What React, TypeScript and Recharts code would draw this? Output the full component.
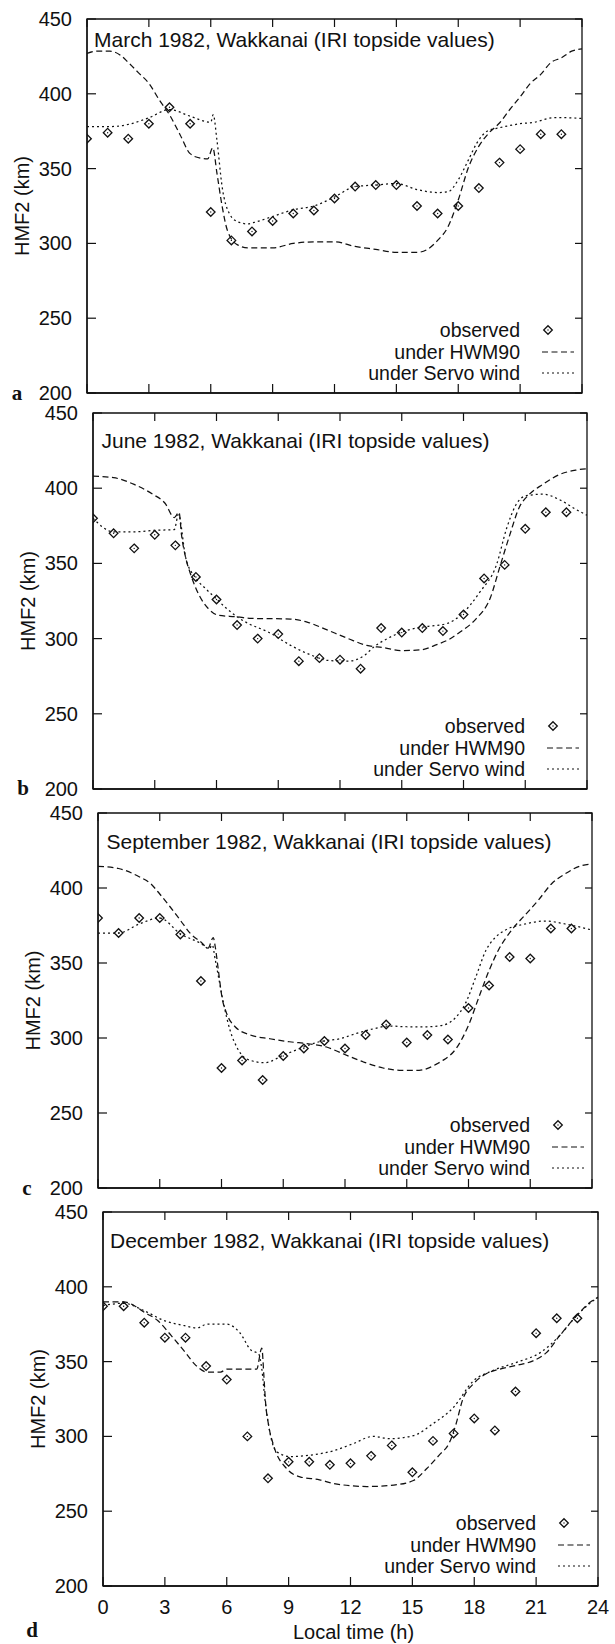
import React from 'react';
import { ComposedChart, Line, Scatter, XAxis, YAxis, ReferenceArea, Legend, Label } from 'recharts';

// ---------- data ----------
const hours = [0, 1, 2, 3, 4, 5, 6, 7, 8, 9, 10, 11, 12, 13, 14, 15, 16, 17, 18, 19, 20, 21, 22, 23];

const obsMarch = [370, 374, 370, 380, 391, 380, 321, 302, 308, 315, 320, 322, 330, 338, 339, 339, 325, 320, 325, 337, 354, 363, 373, 373];
const obsJune = [380, 370, 360, 369, 362, 341, 326, 309, 300, 303, 285, 287, 286, 280, 307, 304, 307, 305, 316, 340, 349, 373, 384, 384];
const obsSept = [380, 370, 380, 380, 369, 338, 280, 285, 272, 288, 293, 298, 293, 302, 309, 297, 302, 299, 320, 335, 354, 353, 373, 373];
const obsDec = [387, 387, 376, 366, 366, 347, 338, 300, 272, 283, 283, 281, 282, 287, 294, 276, 297, 302, 312, 304, 330, 369, 379, 379];

const hwmMarch: [number, number][] = [
  [0, 427], [0.5, 428.5], [1.1, 428.5], [1.6, 426], [2, 421], [2.5, 414], [3, 407], [3.5, 396], [4, 386], [4.5, 373],
  [5, 360], [5.5, 357], [5.85, 356.5], [6.1, 364], [6.3, 347], [6.55, 325], [6.8, 309], [7.3, 299], [7.8, 297], [9, 297],
  [10, 300], [11, 301], [12, 301], [13, 298], [14, 296], [15, 294], [16, 294], [16.5, 296], [17, 302], [17.5, 311],
  [18, 329], [18.5, 351], [19, 365], [19.5, 374], [20, 380.5], [20.5, 389.5], [21, 398], [21.5, 407], [22, 413],
  [22.5, 421], [23, 424], [23.5, 428.5], [24, 430],
];
const servoMarch: [number, number][] = [
  [0, 378], [1, 378], [2, 379.5], [3, 384], [4, 389.5], [5, 385], [6, 381], [6.12, 386], [6.3, 369], [6.55, 338],
  [6.9, 320], [7.3, 314.5], [7.8, 313], [8.1, 314], [9, 318], [10, 322.5], [11, 325], [12, 331], [13, 338], [14, 339],
  [15, 340], [16, 336], [17, 334], [17.5, 334.5], [18, 342.5], [18.5, 356], [18.9, 367], [19.4, 375], [19.9, 377],
  [20.4, 378.5], [21, 380], [21.7, 381], [22.6, 384], [23.2, 384], [24, 383.5],
];
const hwmJune: [number, number][] = [
  [0, 408], [1, 407], [2, 402.5], [2.9, 396], [3.5, 390], [3.95, 380.5], [4.18, 384], [4.3, 369], [4.5, 354], [4.75, 342.5],
  [5.15, 329], [5.6, 320], [6.1, 315.5], [7, 314.5], [7.6, 313.5], [9.6, 313], [10.4, 311], [11.25, 306.5], [12.4, 300],
  [13.3, 295.5], [14.1, 294], [15, 292], [15.9, 292.5], [16.7, 296], [17.3, 299.5], [17.85, 304.5], [18.6, 313],
  [19.3, 327], [19.75, 347], [20.25, 369], [20.7, 387], [21.2, 396], [21.85, 402.5], [22.65, 409], [23.45, 412], [24, 413],
];
const servoJune: [number, number][] = [
  [0, 380], [1, 371], [2, 371], [3, 372], [3.95, 372.5], [4.15, 382.5], [4.5, 354], [4.95, 341], [5.45, 333.5], [5.95, 327],
  [6.45, 320.5], [7, 314.5], [7.55, 310], [8.5, 304.5], [9.6, 295.5], [10.6, 289], [11.4, 285.5], [12.4, 285], [13.2, 289],
  [13.65, 294.5], [14.3, 300], [15.25, 305.5], [16.2, 308], [17.2, 310], [17.85, 315.5], [18.8, 331], [19.6, 349],
  [20.1, 373.5], [20.55, 389], [21.05, 395], [21.85, 396], [22.65, 392.5], [23.45, 386], [24, 382],
];
const hwmSept: [number, number][] = [
  [0, 414.5], [1, 413], [2, 407.5], [2.55, 403], [3, 396], [3.5, 387.5], [4, 378.5], [4.5, 369.5], [5, 364], [5.35, 360],
  [5.6, 367], [5.7, 360.5], [5.85, 345], [6.02, 327.5], [6.26, 316], [6.66, 307.5], [7.4, 302], [8.35, 299.5], [9.3, 297.5],
  [10.3, 296], [11.1, 294], [11.9, 289.5], [12.9, 284], [13.85, 280], [14.65, 278.5], [15.6, 278.5], [16.5, 283],
  [16.75, 285], [17.4, 293], [18.03, 309.5], [18.5, 327], [19, 345], [19.45, 358.5], [20.1, 372], [20.75, 382],
  [21.4, 392], [22.05, 403], [22.7, 409.5], [23.5, 415], [24, 416],
];
const servoSept: [number, number][] = [
  [0, 370], [1, 370], [2, 376], [3, 380], [4, 369.5], [5, 363], [5.4, 359.5], [5.55, 362], [5.7, 352], [5.85, 341],
  [6.1, 323], [6.42, 305], [6.74, 294], [7.23, 286], [8.1, 283.5], [9, 288.5], [10, 294], [10.75, 297.5], [11.75, 299.5],
  [12.55, 303], [13.35, 306], [14.15, 308], [15, 307.5], [16, 307.5], [16.75, 308.5], [17.4, 314], [17.85, 323],
  [18.35, 340.5], [18.85, 358.5], [19.3, 367], [19.8, 372], [20.75, 376], [21.75, 378], [22.7, 376], [23.7, 373], [24, 372],
];
const hwmDec: [number, number][] = [
  [0, 390], [1, 390], [1.5, 387.5], [2, 383], [2.65, 377.5], [3.3, 367.5], [4, 356], [4.5, 347.5], [5.05, 343], [5.7, 343],
  [6, 345], [6.7, 345], [7.45, 345], [7.7, 359], [7.8, 340.5], [7.88, 323], [8.03, 307.5], [8.27, 294], [8.9, 278.5],
  [9.55, 273], [10.5, 271], [11.2, 268.5], [12.8, 266.5], [14.1, 267.5], [15.05, 270.5], [15.7, 278.5], [16.3, 287.5],
  [16.8, 296], [17.1, 307.5], [17.45, 325], [17.95, 335], [18.6, 342], [19.25, 345], [20.05, 347.5], [20.85, 350.5],
  [21.5, 356], [22.15, 367.5], [22.95, 380.5], [23.7, 390.5], [24, 393],
];
const servoDec: [number, number][] = [
  [0, 387.5], [1, 389], [2, 384], [2.95, 377.5], [3.95, 374], [4.55, 372.5], [5.05, 375], [6, 375], [6.65, 369], [7.15, 358],
  [7.55, 355], [7.7, 345], [7.85, 325], [8, 310], [8.2, 296], [8.45, 289.5], [9.1, 286.5], [10.05, 287.5], [11.2, 290.5],
  [12.1, 295], [13.1, 300], [13.9, 298.5], [15.05, 300.5], [16, 308.5], [17, 319.5], [17.95, 337], [18.9, 344],
  [20.05, 349.5], [21.2, 356], [22.15, 367.5], [22.95, 380.5], [23.7, 390], [24, 393],
];

const xTicks = [0, 3, 6, 9, 12, 15, 18, 21, 24];
const yTicks = [200, 250, 300, 350, 400, 450];
const titles = [
  'March 1982, Wakkanai (IRI topside values)',
  'June 1982, Wakkanai (IRI topside values)',
  'September 1982, Wakkanai (IRI topside values)',
  'December 1982, Wakkanai (IRI topside values)',
];
const panelLetters = ['a', 'b', 'c', 'd'];
const legendLabels = ['observed', 'under HWM90', 'under Servo wind'];
const yAxisTitle = 'HMF2 (km)';
const xAxisTitle = 'Local time (h)';

// ---------- helpers ----------
const FONT = '"Liberation Sans", Arial, Helvetica, sans-serif';
const INK = '#111';
const toPts = (arr: [number, number][]) => arr.map(([x, y]) => ({ x, y }));
const obsPts = (vals: number[]) => hours.map((h, i) => ({ x: h, y: vals[i] }));

const DASH_HWM = '6 3.5';
const DASH_SERVO = '2 3';

const Diamond = (props: any) => {
  const { cx, cy } = props;
  if (cx == null || cy == null) return null;
  const r = 4.3;
  return (
    <g>
      <path d={`M${cx},${cy - r}L${cx + r},${cy}L${cx},${cy + r}L${cx - r},${cy}Z`} fill="none" stroke={INK} strokeWidth={1.3} />
      <circle cx={cx} cy={cy} r={0.7} fill={INK} />
    </g>
  );
};

type Geo = { left: number; top: number; w: number; h: number; tdx: number; tdy: number };

const panels: Geo[] = [
  { left: 87, top: 19, w: 495, h: 374, tdx: 7, tdy: 28 },
  { left: 93, top: 413, w: 494, h: 376, tdx: 8.5, tdy: 35 },
  { left: 98, top: 813, w: 494, h: 375, tdx: 8.5, tdy: 36 },
  { left: 103, top: 1212, w: 495, h: 374, tdx: 7, tdy: 36 },
];

const series = [
  { obs: obsMarch, hwm: hwmMarch, servo: servoMarch },
  { obs: obsJune, hwm: hwmJune, servo: servoJune },
  { obs: obsSept, hwm: hwmSept, servo: servoSept },
  { obs: obsDec, hwm: hwmDec, servo: servoDec },
];

const TOP_PAD = 30;
const YAXIS_W = 80;
const XAXIS_H = 40;
const BOTTOM_PAD = 20;
const LEG_W = 240;
const LEG_H = 80;

const LegendBox = () => (
  <svg width={LEG_W} height={LEG_H} style={{ display: 'block' }}>
    {legendLabels.map((t, i) => {
      const y = [17, 39, 60][i];
      return (
        <g key={t}>
          <text x={LEG_W - 62} y={y} dy="0.35em" textAnchor="end" fontSize={19.5} fontFamily={FONT} fill={INK}>{t}</text>
          {i === 0 && <Diamond cx={LEG_W - 34} cy={y} />}
          {i === 1 && <line x1={LEG_W - 40} y1={y} x2={LEG_W - 8} y2={y} stroke={INK} strokeWidth={1.2} strokeDasharray={DASH_HWM} />}
          {i === 2 && <line x1={LEG_W - 40} y1={y} x2={LEG_W - 8} y2={y} stroke={INK} strokeWidth={1.2} strokeDasharray={DASH_SERVO} />}
        </g>
      );
    })}
  </svg>
);

const Panel = ({ idx }: { idx: number }) => {
  const g = panels[idx];
  const s = series[idx];
  const last = idx === 3;
  const chartH = TOP_PAD + g.h + XAXIS_H + BOTTOM_PAD;
  const margin = { top: TOP_PAD, left: g.left - YAXIS_W, right: 615 - g.left - g.w, bottom: BOTTOM_PAD };

  const xTick = (p: any) => (
    <g>
      <line x1={p.x} y1={p.y} x2={p.x} y2={p.y - 9} stroke={INK} strokeWidth={1.2} />
      <line x1={p.x} y1={p.y - g.h} x2={p.x} y2={p.y - g.h + 8} stroke={INK} strokeWidth={1.2} />
      {last && (
        <text x={p.x} y={p.y + 21} dy="0.35em" textAnchor="middle" fontSize={20} fontFamily={FONT} fill={INK}>{p.payload.value}</text>
      )}
    </g>
  );
  const yTick = (p: any) => (
    <g>
      <line x1={p.x} y1={p.y} x2={p.x + 9} y2={p.y} stroke={INK} strokeWidth={1.2} />
      <line x1={p.x + g.w} y1={p.y} x2={p.x + g.w - 7} y2={p.y} stroke={INK} strokeWidth={1.2} />
      <text x={p.x - 15} y={p.y} dy="0.35em" textAnchor="end" fontSize={20} fontFamily={FONT} fill={INK}>{p.payload.value}</text>
    </g>
  );
  const yLabel = (p: any) => {
    const vb = p.viewBox;
    const cx = vb.x + vb.width - 65;
    const cy = vb.y + vb.height / 2;
    return (
      <text x={cx} y={cy} dy="0.35em" textAnchor="middle" transform={`rotate(-90 ${cx} ${cy})`} fontSize={20} fontFamily={FONT} fill={INK}>{yAxisTitle}</text>
    );
  };
  const xLabel = (p: any) => {
    const vb = p.viewBox;
    return (
      <text x={vb.x + vb.width / 2 + 3} y={vb.y + 46} dy="0.35em" textAnchor="middle" fontSize={20} fontFamily={FONT} fill={INK}>{xAxisTitle}</text>
    );
  };
  const titleLabel = (p: any) => {
    const vb = p.viewBox;
    return (
      <text x={vb.x + g.tdx} y={vb.y + g.tdy} fontSize={21} fontFamily={FONT} fill={INK}>{titles[idx]}</text>
    );
  };

  return (
    <div style={{ position: 'absolute', left: 0, top: g.top - TOP_PAD, width: 615, height: chartH }}>
      <ComposedChart width={615} height={chartH} margin={margin}>
        <XAxis
          dataKey="x"
          type="number"
          domain={[0, 24]}
          ticks={xTicks}
          interval={0}
          height={XAXIS_H}
          tickSize={0}
          tickMargin={0}
          tick={xTick}
          axisLine={{ stroke: INK, strokeWidth: 1.3 }}
          allowDataOverflow
        >
          {last && <Label content={xLabel} />}
        </XAxis>
        <YAxis
          dataKey="y"
          type="number"
          domain={[200, 450]}
          ticks={yTicks}
          interval={0}
          width={YAXIS_W}
          tickSize={0}
          tickMargin={0}
          tick={yTick}
          axisLine={{ stroke: INK, strokeWidth: 1.3 }}
          allowDataOverflow
        >
          <Label content={yLabel} />
        </YAxis>
        <ReferenceArea x1={0} x2={24} y1={200} y2={450} fill="none" fillOpacity={0} stroke={INK} strokeWidth={1.3} ifOverflow="visible">
          <Label content={titleLabel} />
        </ReferenceArea>
        <Line data={toPts(s.hwm)} dataKey="y" type="monotone" stroke={INK} strokeWidth={1.25} strokeDasharray={DASH_HWM} dot={false} activeDot={false} isAnimationActive={false} />
        <Line data={toPts(s.servo)} dataKey="y" type="monotone" stroke={INK} strokeWidth={1.25} strokeDasharray={DASH_SERVO} dot={false} activeDot={false} isAnimationActive={false} />
        <Scatter data={obsPts(s.obs)} dataKey="y" shape={Diamond} isAnimationActive={false} />
        <Legend
          layout="horizontal"
          verticalAlign="middle"
          align="center"
          content={() => <LegendBox />}
          wrapperStyle={{ position: 'absolute', left: g.left + g.w - LEG_W, top: TOP_PAD + g.h - LEG_H, width: LEG_W, height: LEG_H, margin: 0, padding: 0 }}
        />
      </ComposedChart>
    </div>
  );
};

const letterPos = [
  { x: 17, y: 400 },
  { x: 23, y: 795 },
  { x: 27, y: 1195 },
  { x: 32, y: 1637 },
];

export default function App() {
  return (
    <div style={{ position: 'absolute', left: 0, top: 0, width: 615, height: 1644, background: '#fff', overflow: 'hidden', fontFamily: FONT }}>
      <svg width={615} height={1644} style={{ position: 'absolute', left: 0, top: 0 }}>
        {panelLetters.map((l, i) => (
          <text key={l} x={letterPos[i].x} y={letterPos[i].y} textAnchor="middle" fontSize={21} fontWeight="bold" fontFamily='"Liberation Serif", "Times New Roman", serif' fill={INK}>{l}</text>
        ))}
      </svg>
      {[0, 1, 2, 3].map((i) => (
        <Panel key={i} idx={i} />
      ))}
    </div>
  );
}
